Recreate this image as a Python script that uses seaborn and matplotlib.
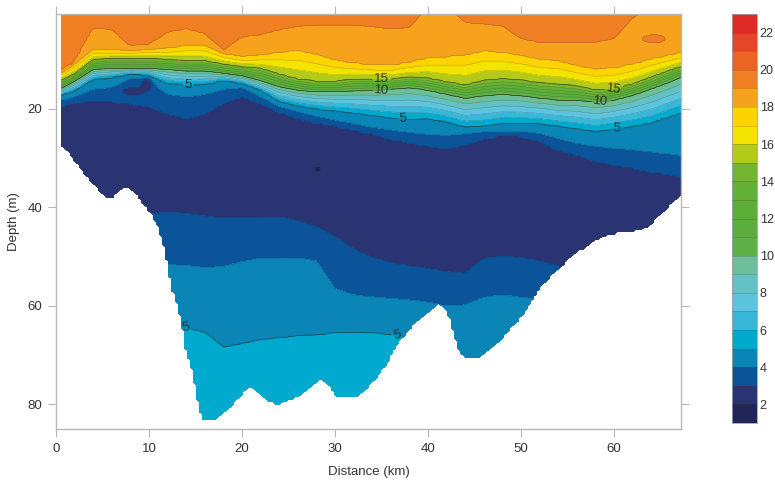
import numpy as np
import matplotlib
matplotlib.use("Agg")
import matplotlib.pyplot as plt
from matplotlib.colors import ListedColormap, BoundaryNorm
import seaborn as sns

# Section stations (km along track) and the depth (m) of each isotherm at them
station_km = [0.6, 2, 4, 6, 8, 10, 12, 14, 16, 18, 20, 22, 24, 26, 28, 30, 32, 34,
              36, 38, 40, 42, 44, 46, 48, 50, 52, 54, 56, 58, 60, 62, 64, 66, 67.2]

iso19 = [12.3, 10.5, 3.6, 4.0, 7.4, 7.0, 4.5, 3.8, 4.8, 8.3, 5.5, 5.0, 4.0, 3.3, 3.0, 3.0, 3.0, 3.3,
         3.8, 3.5, -1.0, -1.0, 2.5, 2.8, 3.2, 5.8, 6.6, 6.7, 6.7, 6.5, 5.8, 1.5, -1.0, -1.0, -1.0]
iso18 = [12.6, 10.9, 8.0, 8.2, 8.2, 8.0, 7.8, 7.2, 7.2, 8.8, 9.5, 9.2, 8.6, 8.2, 9.0, 10.2, 10.8, 11.2,
         11.3, 10.6, 9.8, 9.5, 9.2, 8.3, 8.6, 9.2, 10.0, 10.3, 11.3, 12.0, 11.8, 11.0, 10.0, 9.2, 8.7]
iso15 = [14.2, 12.9, 10.0, 9.8, 9.8, 9.8, 10.0, 10.3, 10.3, 11.0, 11.5, 11.8, 13.0, 14.0, 14.5, 14.5, 14.0, 14.0,
         14.0, 13.6, 13.8, 14.6, 15.2, 14.3, 13.9, 14.2, 14.8, 15.0, 15.4, 16.2, 16.0, 15.0, 13.6, 12.2, 11.5]
iso10 = [15.8, 14.4, 12.0, 11.8, 11.9, 11.8, 12.0, 12.3, 12.3, 12.8, 13.3, 14.3, 15.5, 16.2, 16.5, 16.5, 16.3, 16.2,
         16.0, 15.6, 16.2, 17.0, 17.8, 17.3, 17.0, 17.3, 17.8, 18.2, 18.2, 18.6, 18.2, 17.2, 15.9, 14.5, 13.5]
iso5_upper = [17.2, 16.3, 14.0, 13.6, 12.9, 13.2, 14.8, 15.1, 15.0, 14.2, 14.8, 16.2, 18.5, 19.4, 20.0, 20.4, 20.8, 21.3,
              21.8, 22.1, 22.0, 22.6, 23.7, 23.5, 23.0, 22.9, 23.0, 23.5, 24.0, 24.6, 24.0, 23.5, 22.8, 21.5, 20.8]
iso4_upper = [18.2, 17.5, 16.0, 15.6, 13.6, 13.9, 17.0, 17.5, 17.0, 16.0, 15.6, 17.5, 19.5, 20.5, 21.5, 22.3, 23.0, 23.8,
              24.3, 24.8, 25.2, 25.4, 25.0, 24.6, 24.5, 24.6, 25.0, 26.0, 27.0, 27.6, 28.0, 28.3, 28.8, 29.2, 29.5]
iso3_upper = [19.2, 18.8, 18.2, 18.5, 19.0, 19.5, 21.0, 21.9, 21.0, 18.8, 17.4, 18.8, 20.6, 21.8, 22.8, 23.4, 24.2, 25.0,
              26.0, 26.8, 27.5, 28.0, 27.2, 26.0, 25.3, 25.5, 26.5, 28.3, 29.3, 30.5, 31.3, 32.0, 32.7, 33.3, 33.8]
iso3_lower = [45, 45, 45, 45, 45, 41.5, 41.0, 41.3, 41.8, 42.2, 42.2, 42.0, 42.0, 42.8, 44.0, 46.0, 48.5, 50.3,
              51.3, 52.0, 52.5, 53.2, 53.5, 50.5, 50.0, 50.3, 51.0, 52.0, 55, 58, 58, 58, 58, 58, 58]
iso4_lower = [60, 60, 60, 60, 60, 52.0, 51.6, 51.8, 52.2, 52.0, 51.0, 50.3, 50.2, 50.3, 50.8, 56.5, 57.8, 58.2,
              58.5, 58.8, 59.2, 60.0, 59.7, 58.2, 57.8, 58.2, 58.6, 62, 65, 65, 65, 65, 65, 65, 65]
iso5_lower = [70, 70, 70, 70, 70, 66, 63.8, 64.4, 65.3, 68.3, 67.6, 66.8, 66.4, 66.0, 65.8, 65.4, 65.3, 65.4,
              65.7, 66.5, 70, 75, 75, 75, 75, 75, 75, 75, 75, 75, 75, 75, 75, 75, 75]

surface_temp = 19.7
core_temp = 2.4
deep_temp = 6.0

# Local cold / warm cells: (km, depth, half-width km, half-height m, centre temperature)
cold_cells = [(9.7, 15.2, 0.85, 1.8, 2.1),
              (8.3, 16.4, 1.6, 1.05, 2.1),
              (28.2, 32.2, 0.5, 1.0, 1.5)]
warm_cells = [(64.3, 5.8, 1.8, 1.15, 19.6)]

# Sea floor along the section
bottom_km = [0.6, 1.5, 2.5, 3.5, 4.5, 5.5, 6.3, 7.0, 7.6, 8.2, 8.8, 9.4, 10.1, 10.6, 11.0, 11.6, 11.9, 12.3,
             12.9, 13.4, 13.8, 14.5, 15.1, 15.6, 17.0, 17.8, 18.6, 19.9, 20.7, 21.3, 22.0, 23.0, 23.8, 24.6,
             25.6, 26.4, 27.2, 28.0, 28.5, 29.3, 30.2, 31.9, 32.6, 33.2, 34.1, 35.0, 35.9, 36.7, 37.6, 38.4,
             39.3, 40.2, 41.2, 41.9, 42.3, 42.6, 43.2, 44.0, 45.3, 46.0, 46.6, 47.9, 49.2, 50.2, 51.0, 51.7,
             52.3, 53.2, 54.0, 55.0, 56.1, 57.2, 58.3, 59.5, 60.9, 62.0, 63.0, 64.0, 65.2, 66.0, 67.2]
bottom_depth = [27.5, 29.5, 32.0, 34.5, 36.5, 38.2, 38.0, 36.5, 36.0, 36.8, 38.0, 39.8, 41.1, 43.0, 44.5, 48.6,
                52.0, 56.0, 60.0, 64.0, 68.9, 72.9, 79.0, 83.4, 83.4, 82.0, 81.0, 78.4, 76.6, 77.0, 78.0, 79.5,
                80.6, 79.6, 79.0, 78.3, 77.0, 75.5, 75.0, 76.5, 78.6, 79.0, 78.3, 77.4, 75.5, 73.6, 71.0, 68.2,
                66.0, 64.2, 62.5, 61.4, 59.8, 60.8, 63.5, 66.0, 68.9, 70.9, 70.7, 70.0, 68.9, 66.9, 64.2, 62.0,
                60.1, 58.0, 56.1, 54.2, 52.6, 51.0, 49.2, 47.8, 46.6, 45.8, 45.2, 45.0, 44.8, 43.5, 41.3, 39.8, 37.5]

# Colour scale: one band per degree from 1 to 23 degC
levels = np.arange(1, 24)
band_colors = ["#1f2556", "#2a3472", "#0b549a", "#0b84b6", "#00a9ce", "#38b8d8", "#5cc4df",
               "#63c1c6", "#6cbe9a", "#5fb046", "#5aae3c", "#5cae37", "#63b134", "#72b52e",
               "#b3ca18", "#f3e400", "#fdd300", "#f6a21d", "#ef7f22", "#ea6424", "#e5462a", "#de2b27"]
colorbar_ticks = list(range(2, 23, 2))
xticks = list(range(0, 61, 10))
yticks = [20, 40, 60, 80]
label_spots = [(14.2, 15.1), (35.0, 14.1), (35.0, 16.3), (37.3, 22.2), (58.6, 18.4),
               (60.0, 16.0), (60.3, 23.9), (13.9, 64.2), (36.7, 65.8)]

sns.set_theme(style="ticks")
plt.rcParams["font.family"] = ["Liberation Sans", "DejaVu Sans"]

# Gridded temperature field built from the isotherm depths
x = np.linspace(0.6, 67.2, 203)
z = np.arange(0.5, 86.01, 0.5)
X, Z = np.meshgrid(x, z)

def along(values):
    return np.interp(x, station_km, values)

surfaces = [along(a) for a in (iso19, iso18, iso15, iso10, iso5_upper, iso4_upper, iso3_upper)]
lower = [along(a) for a in (iso3_lower, iso4_lower, iso5_lower)]
T = np.empty_like(X)
for j in range(len(x)):
    up = [s[j] for s in surfaces]
    lo = [s[j] for s in lower]
    core_depth = 0.5 * (up[-1] + lo[0])
    depths = [-2.0] + up + [core_depth] + lo + [100.0]
    temps = [surface_temp, 19, 18, 15, 10, 5, 4, 3, core_temp, 3, 4, 5, deep_temp]
    T[:, j] = np.interp(z, depths, temps)

for cx, cz, rx, rz, tc in cold_cells:
    r2 = ((X - cx) / rx) ** 2 + ((Z - cz) / rz) ** 2
    T = np.where(r2 < 1, np.minimum(T, tc + (T - tc) * r2), T)
for cx, cz, rx, rz, tc in warm_cells:
    r2 = ((X - cx) / rx) ** 2 + ((Z - cz) / rz) ** 2
    T = np.where(r2 < 1, np.maximum(T, tc - (tc - T) * r2), T)

floor = np.interp(x, bottom_km, bottom_depth)
Tm = np.ma.masked_where(Z > floor[None, :], T)

cmap = ListedColormap(band_colors)
norm = BoundaryNorm(levels, cmap.N)

fig = plt.figure(figsize=(7.75, 4.82), dpi=100)
ax = fig.add_axes([56 / 775, 1 - 429 / 482, 625 / 775, 415 / 482])
cf = ax.contourf(X, Z, Tm, levels=levels, cmap=cmap, norm=norm)
ax.contour(X, Z, Tm, levels=levels, colors="#202020", linewidths=0.3, alpha=0.35)
cs = ax.contour(X, Z, Tm, levels=[5, 10, 15], colors="#1a1a1a", linewidths=0.45, alpha=0.8)
ax.clabel(cs, manual=label_spots, fmt="%d", fontsize=9.5, inline=True,
          inline_spacing=2, colors="#1a1a1a")

ax.set_xlim(0, 67.2)
ax.set_ylim(85, 0.75)
ax.set_xticks(xticks)
ax.set_yticks(yticks)
ax.set_facecolor("white")
spine_gray = "#b8b8b8"
for sp in ax.spines.values():
    sp.set_visible(True)
    sp.set_color(spine_gray)
    sp.set_linewidth(1.0)
ax.tick_params(direction="out", length=6, width=0.8, color=spine_gray,
               top=True, right=True, labeltop=False, labelright=False,
               labelsize=9.5, labelcolor="#333333", pad=4)
ax.set_xlabel("Distance (km)", fontsize=9.5, color="#333333", labelpad=8)
ax.set_ylabel("Depth (m)", fontsize=9.5, color="#333333", labelpad=5)

cax = fig.add_axes([732 / 775, 1 - 423 / 482, 25 / 775, 409 / 482])
cb = fig.colorbar(cf, cax=cax, ticks=colorbar_ticks, drawedges=True)
cb.dividers.set_color("#5a2a1a")
cb.dividers.set_linewidth(0.4)
cb.dividers.set_alpha(0.35)
cb.outline.set_edgecolor("#a0a0a0")
cb.outline.set_linewidth(0.6)
cax.minorticks_off()
cax.tick_params(which="both", length=0, labelsize=9, labelcolor="#333333", pad=2)

fig.savefig("out.png", dpi=100)
